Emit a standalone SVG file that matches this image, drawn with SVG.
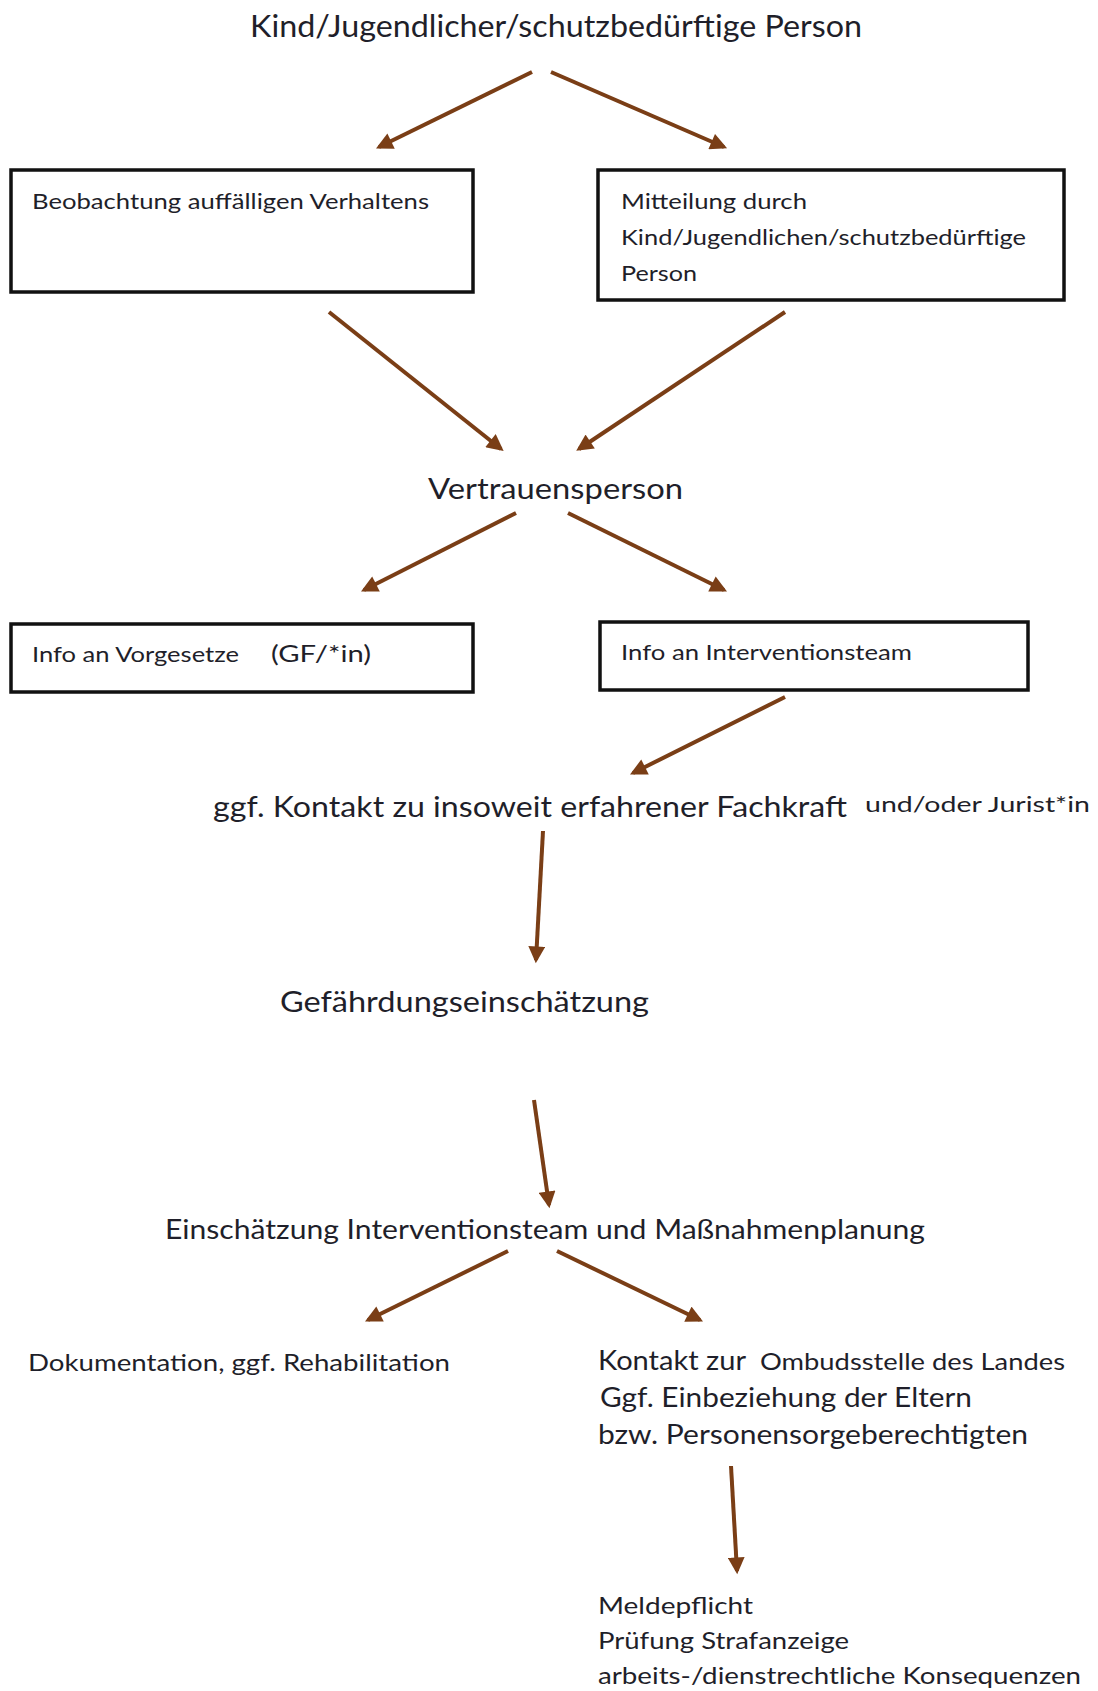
<svg xmlns="http://www.w3.org/2000/svg" width="1098" height="1691" viewBox="0 0 1098 1691">
<style>
text{font-family:Lato,"Liberation Sans",sans-serif;fill:#1f1f2a}
.box{fill:#fff;stroke:#111;stroke-width:3.5}
.c line{stroke:#7a3e16;stroke-width:4;marker-end:url(#ah)}
</style>
<defs>
<marker id="ah" viewBox="0 0 10 10" refX="8" refY="5" markerWidth="4.4" markerHeight="4.2" orient="auto" markerUnits="strokeWidth">
<path d="M0,0 L10,5 L0,10 z" fill="#7a3e16"/>
</marker>
</defs>
<rect width="1098" height="1691" fill="#fff"/>
<g class="c" id="connectors">
<line x1="532" y1="72" x2="379" y2="147"/>
<line x1="551" y1="72" x2="724" y2="147"/>
<line x1="329" y1="312" x2="501" y2="449"/>
<line x1="785" y1="312" x2="579" y2="449"/>
<line x1="516" y1="513" x2="364" y2="590"/>
<line x1="568" y1="513" x2="724" y2="590"/>
<line x1="785" y1="697" x2="633" y2="773"/>
<line x1="543" y1="831" x2="536" y2="960"/>
<line x1="534" y1="1100" x2="549" y2="1205"/>
<line x1="508" y1="1251" x2="368" y2="1320"/>
<line x1="557" y1="1251" x2="700" y2="1320"/>
<line x1="731" y1="1466" x2="737" y2="1571"/>
</g>
<g id="n-title"><text x="250" y="37" font-size="30" textLength="612" lengthAdjust="spacingAndGlyphs">Kind/Jugendlicher/schutzbedürftige Person</text></g>
<g id="n-beobachtung"><rect class="box" x="11" y="170" width="462" height="122"/>
<text x="32" y="209" font-size="22" textLength="397" lengthAdjust="spacingAndGlyphs">Beobachtung auffälligen Verhaltens</text></g>
<g id="n-mitteilung"><rect class="box" x="598" y="170" width="466" height="130"/>
<text x="621" y="209" font-size="22" textLength="186" lengthAdjust="spacingAndGlyphs">Mitteilung durch</text>
<text x="621" y="245" font-size="22" textLength="405" lengthAdjust="spacingAndGlyphs">Kind/Jugendlichen/schutzbedürftige</text>
<text x="621" y="281" font-size="22" textLength="76" lengthAdjust="spacingAndGlyphs">Person</text></g>
<g id="n-vertrauen"><text x="428" y="499" font-size="28" textLength="255" lengthAdjust="spacingAndGlyphs">Vertrauensperson</text></g>
<g id="n-vorgesetze"><rect class="box" x="11" y="624" width="462" height="68"/>
<text x="32" y="662" font-size="22" textLength="207" lengthAdjust="spacingAndGlyphs">Info an Vorgesetze</text>
<text x="271" y="662" font-size="24" textLength="100" lengthAdjust="spacingAndGlyphs">(GF/*in)</text></g>
<g id="n-interventionsteam"><rect class="box" x="600" y="622" width="428" height="68"/>
<text x="621" y="660" font-size="22" textLength="291" lengthAdjust="spacingAndGlyphs">Info an Interventionsteam</text></g>
<g id="n-fachkraft"><text x="213" y="817" font-size="28" textLength="634" lengthAdjust="spacingAndGlyphs">ggf. Kontakt zu insoweit erfahrener Fachkraft</text>
<text x="865" y="812" font-size="22" textLength="225" lengthAdjust="spacingAndGlyphs">und/oder Jurist*in</text></g>
<g id="n-gefaehrdung"><text x="280" y="1012" font-size="28" textLength="369" lengthAdjust="spacingAndGlyphs">Gefährdungseinschätzung</text></g>
<g id="n-einschaetzung"><text x="165" y="1239" font-size="27" textLength="760" lengthAdjust="spacingAndGlyphs">Einschätzung Interventionsteam und Maßnahmenplanung</text></g>
<g id="n-doku"><text x="28" y="1371" font-size="24" textLength="422" lengthAdjust="spacingAndGlyphs">Dokumentation, ggf. Rehabilitation</text></g>
<g id="n-ombuds"><text x="598" y="1370" font-size="27" textLength="148" lengthAdjust="spacingAndGlyphs">Kontakt zur</text>
<text x="760" y="1370" font-size="23" textLength="305" lengthAdjust="spacingAndGlyphs">Ombudsstelle des Landes</text>
<text x="600" y="1407" font-size="27" textLength="372" lengthAdjust="spacingAndGlyphs">Ggf. Einbeziehung der Eltern</text>
<text x="598" y="1444" font-size="27" textLength="430" lengthAdjust="spacingAndGlyphs">bzw. Personensorgeberechtigten</text></g>
<g id="n-melde"><text x="598" y="1614" font-size="24" textLength="155" lengthAdjust="spacingAndGlyphs">Meldepflicht</text>
<text x="598" y="1649" font-size="24" textLength="251" lengthAdjust="spacingAndGlyphs">Prüfung Strafanzeige</text>
<text x="598" y="1684" font-size="24" textLength="483" lengthAdjust="spacingAndGlyphs">arbeits-/dienstrechtliche Konsequenzen</text></g>
</svg>
